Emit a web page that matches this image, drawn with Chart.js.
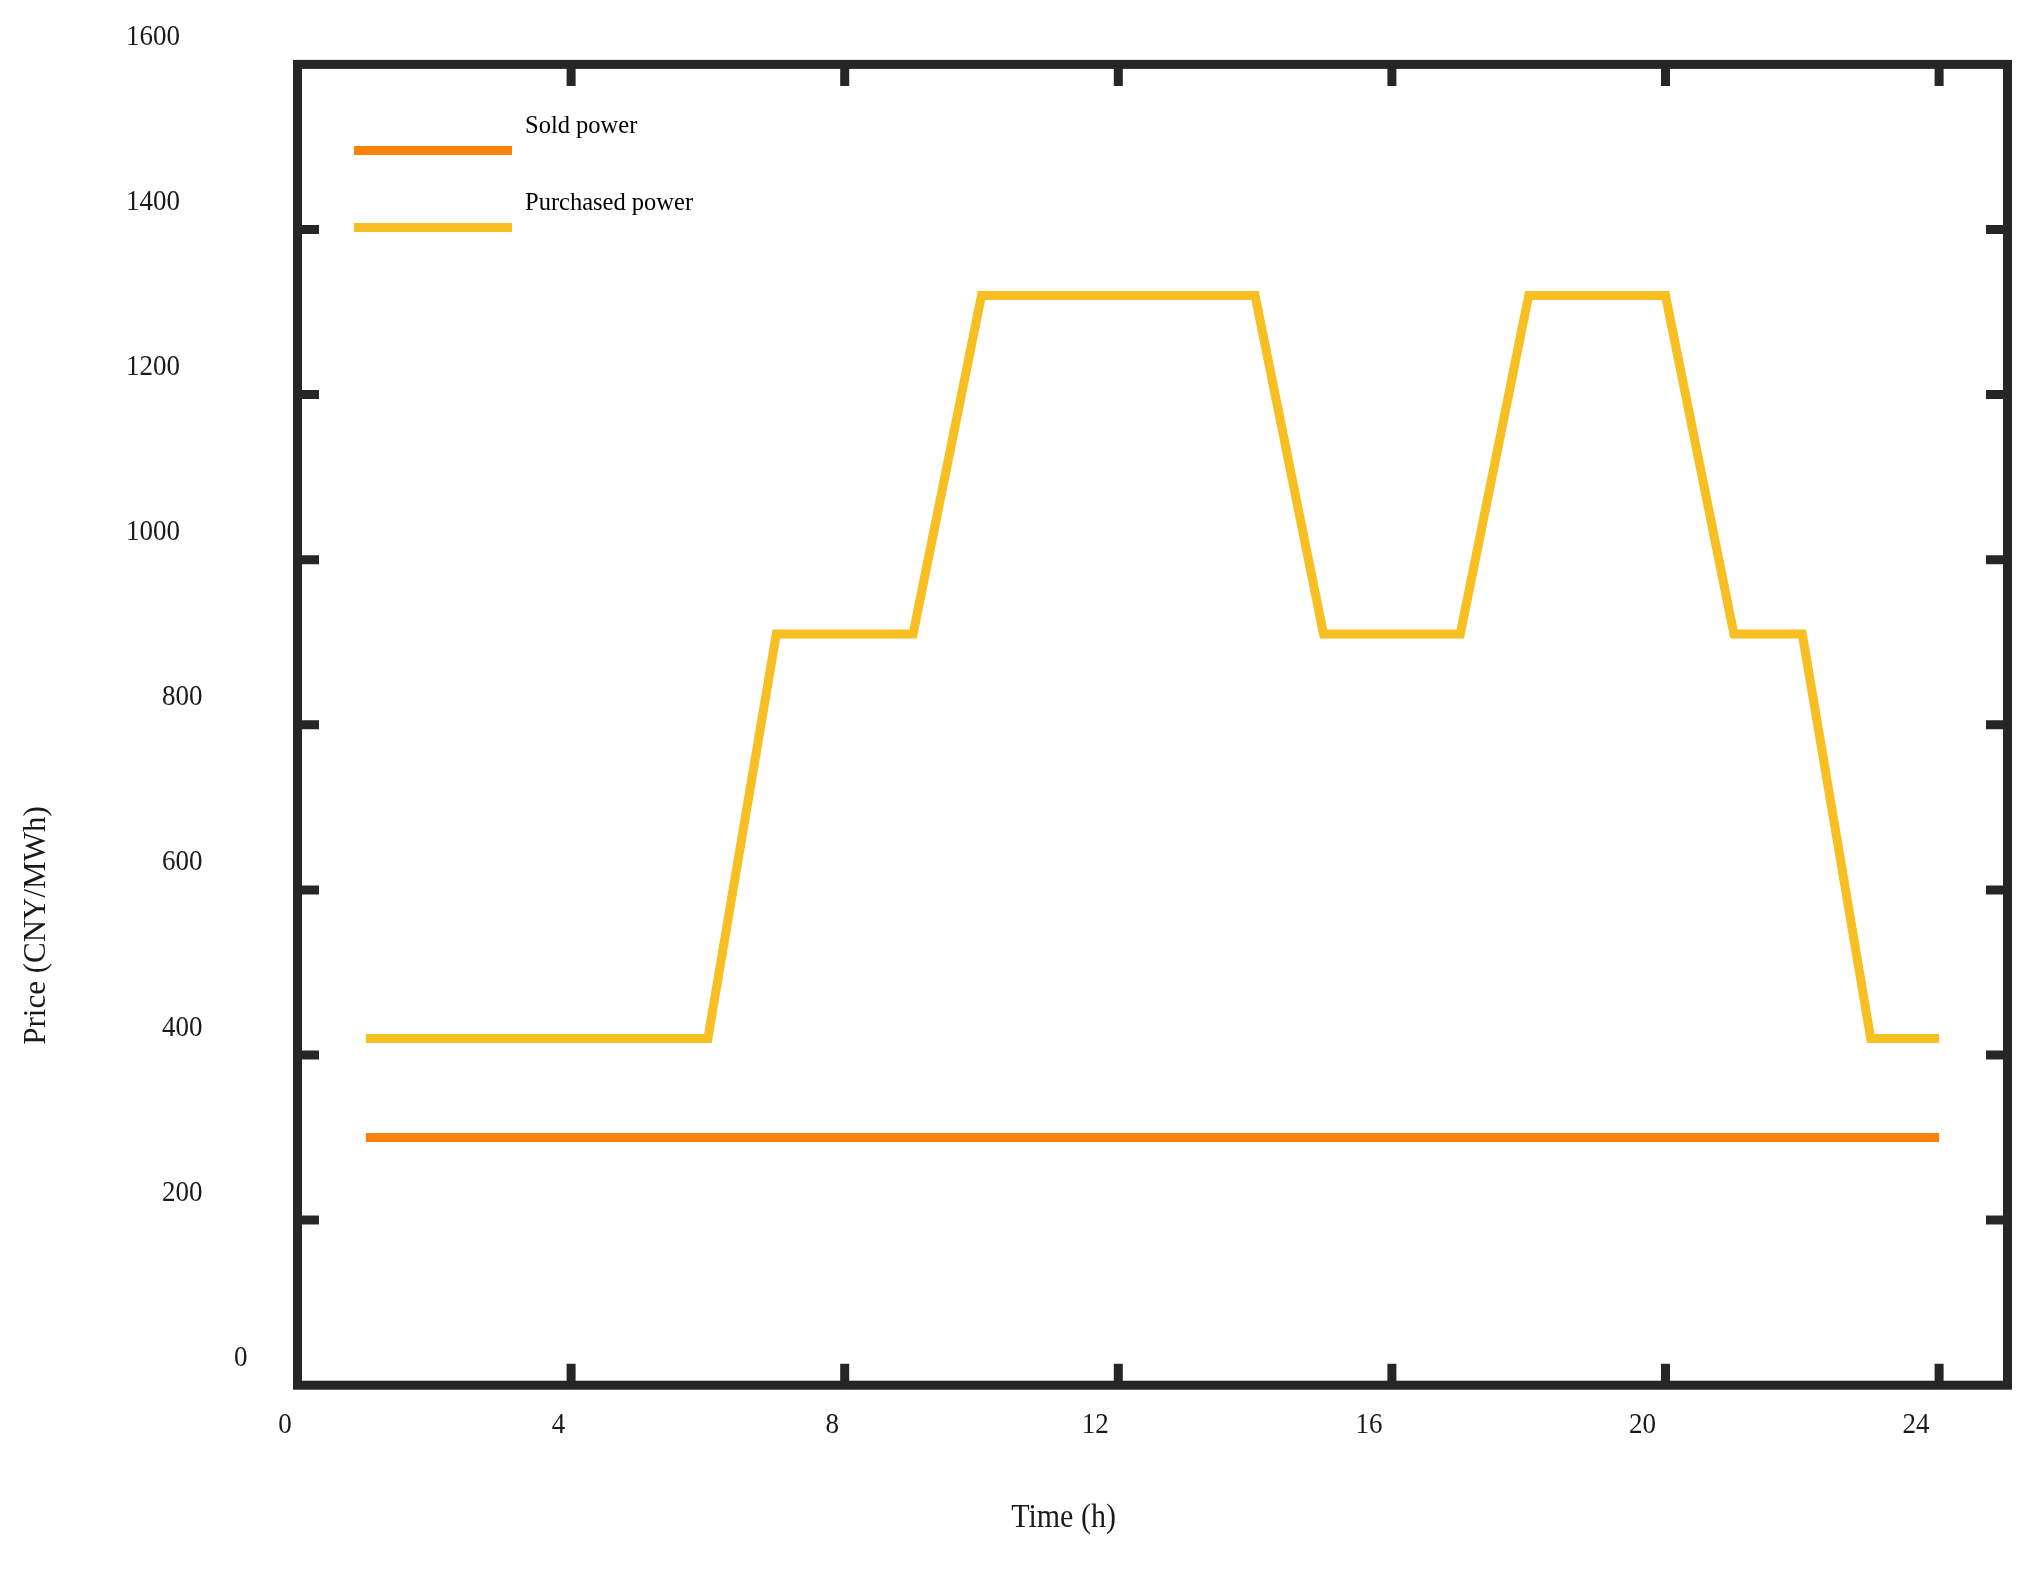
<!DOCTYPE html>
<html>
<head>
<meta charset="utf-8">
<script src="https://cdn.jsdelivr.net/npm/chart.js@4.4.1/dist/chart.umd.min.js"></script>
<style>
  html, body { margin: 0; padding: 0; background: #ffffff; }
  #c { display: block; }
</style>
</head>
<body>
<canvas id="c" width="2038" height="1569"></canvas>
<script>
// ---- data ----
const hours = [1,2,3,4,5,6,7,8,9,10,11,12,13,14,15,16,17,18,19,20,21,22,23,24];
const soldPrice = [300,300,300,300,300,300,300,300,300,300,300,300,300,300,300,300,300,300,300,300,300,300,300,300];
const purchasedPrice = [420,420,420,420,420,420,910,910,910,1320,1320,1320,1320,1320,910,910,910,1320,1320,1320,910,910,420,420];
const seriesNames = ['Sold power', 'Purchased power'];
const xTickValues = [0,4,8,12,16,20,24];
const yTickValues = [0,200,400,600,800,1000,1200,1400,1600];
const xTitle = 'Time (h)';
const yTitle = 'Price (CNY/MWh)';

const frameColor = '#262626';
const textColor = '#1a1a1a';
const seriesColors = ['#fc8207', '#f7bf22'];

function pts(ys) { return hours.map((h, i) => ({ x: h, y: ys[i] })); }

const framePlugin = {
  id: 'framePlugin',
  afterDatasetsDraw(chart) {
    const ctx = chart.ctx;
    const a = chart.chartArea;
    const xs = chart.scales.x, ys = chart.scales.y;
    ctx.save();
    // frame
    ctx.strokeStyle = frameColor;
    ctx.lineWidth = 9;
    ctx.lineJoin = 'miter';
    ctx.strokeRect(a.left, a.top, a.right - a.left, a.bottom - a.top);
    // ticks
    const tl = 21.5;
    ctx.beginPath();
    yTickValues.forEach(v => {
      if (v === ys.min || v === ys.max) return;
      const y = ys.getPixelForValue(v);
      ctx.moveTo(a.left, y); ctx.lineTo(a.left + tl, y);
      ctx.moveTo(a.right, y); ctx.lineTo(a.right - tl, y);
    });
    xTickValues.forEach(v => {
      if (v === xs.min) return;
      const x = xs.getPixelForValue(v);
      ctx.moveTo(x, a.bottom); ctx.lineTo(x, a.bottom - tl);
      ctx.moveTo(x, a.top); ctx.lineTo(x, a.top + tl);
    });
    ctx.stroke();

    // tick labels (slightly tall serif digits)
    ctx.fillStyle = textColor;
    ctx.font = '27px "Liberation Serif", "Times New Roman", serif';
    ctx.textBaseline = 'alphabetic';
    const sy = 1.1;
    yTickValues.forEach(v => {
      const s = String(v);
      const y = ys.getPixelForValue(v) - 19.5;
      const x = 270 - 36 * s.length;
      ctx.save();
      ctx.translate(x, y);
      ctx.scale(1, sy);
      ctx.textAlign = 'left';
      ctx.fillText(s, 0, 0);
      ctx.restore();
    });
    xTickValues.forEach(v => {
      const s = String(v);
      const cx = xs.getPixelForValue(v) - 12.5 - 10.5 * (s.length - 1);
      const y = a.bottom + 47.5;
      ctx.save();
      ctx.translate(cx, y);
      ctx.scale(1, sy);
      ctx.textAlign = 'center';
      ctx.fillText(s, 0, 0);
      ctx.restore();
    });

    // axis titles
    ctx.font = '30px "Liberation Serif", "Times New Roman", serif';
    ctx.save();
    ctx.translate(1063.5, 1527);
    ctx.scale(1, sy);
    ctx.textAlign = 'center';
    ctx.fillText(xTitle, 0, 0);
    ctx.restore();

    ctx.save();
    ctx.font = '31px "Liberation Serif", "Times New Roman", serif';
    ctx.translate(37, 925.5);
    ctx.rotate(-Math.PI / 2);
    ctx.textAlign = 'center';
    ctx.textBaseline = 'middle';
    ctx.fillText(yTitle, 0, 0);
    ctx.restore();

    // legend
    ctx.font = '24.5px "Liberation Serif", "Times New Roman", serif';
    ctx.textAlign = 'left';
    ctx.textBaseline = 'alphabetic';
    chart.data.datasets.forEach((ds, i) => {
      const ly = 150.5 + 77 * i;
      ctx.strokeStyle = ds.borderColor;
      ctx.lineWidth = 9;
      ctx.lineCap = 'butt';
      ctx.beginPath();
      ctx.moveTo(354, ly); ctx.lineTo(512, ly);
      ctx.stroke();
      ctx.fillStyle = '#000000';
      ctx.fillText(ds.label, 525, ly - 17.5);
    });
    ctx.restore();
  }
};

new Chart(document.getElementById('c'), {
  type: 'line',
  data: {
    datasets: [
      { label: seriesNames[0], data: pts(soldPrice), borderColor: seriesColors[0], backgroundColor: seriesColors[0],
        borderWidth: 9, pointRadius: 0, tension: 0, fill: false, borderJoinStyle: 'miter' },
      { label: seriesNames[1], data: pts(purchasedPrice), borderColor: seriesColors[1], backgroundColor: seriesColors[1],
        borderWidth: 9, pointRadius: 0, tension: 0, fill: false, borderJoinStyle: 'miter' }
    ]
  },
  options: {
    responsive: false,
    animation: false,
    devicePixelRatio: 1,
    layout: { padding: { left: 297.5, top: 64.4, right: 30.5, bottom: 183.8 } },
    scales: {
      x: { type: 'linear', min: 0, max: 25, display: false },
      y: { type: 'linear', min: 0, max: 1600, display: false }
    },
    plugins: { legend: { display: false }, tooltip: { enabled: false } }
  },
  plugins: [framePlugin]
});
</script>
</body>
</html>
